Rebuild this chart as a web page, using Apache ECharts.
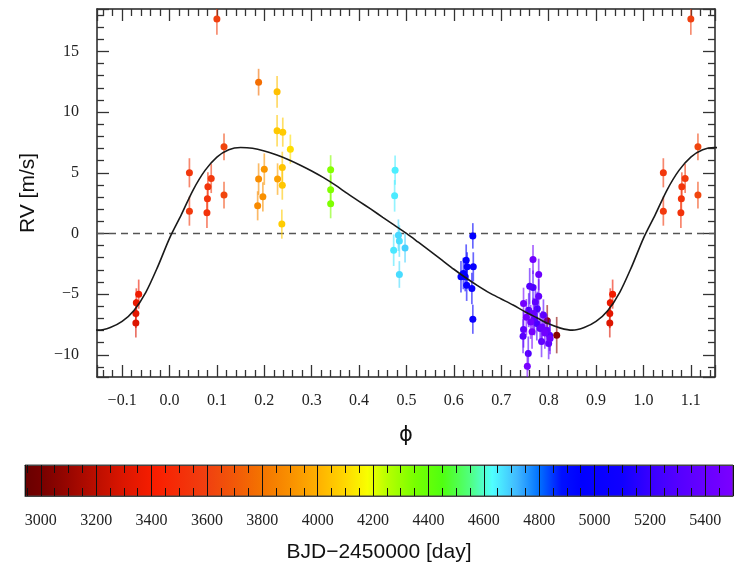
<!DOCTYPE html>
<html><head><meta charset="utf-8">
<script src="https://cdn.jsdelivr.net/npm/echarts@6/dist/echarts.min.js"></script>
<style>html,body{margin:0;padding:0;background:#fff}#c{width:736px;height:570px}</style>
</head><body><div id="c"></div>
<script>
// ---- data ----
// orbital phase (0..1), radial velocity [m/s], 1-sigma error, epoch BJD-2450000
const phase = [
  0.817, 0.797,
  0.929, 0.929, 0.930, 0.935,
  0.042, 0.042, 0.079, 0.080, 0.081, 0.088, 0.115, 0.115, 0.100,
  0.188, 0.186, 0.197, 0.188, 0.200, 0.228, 0.227, 0.227, 0.239, 0.238, 0.238, 0.237, 0.255,
  0.340, 0.340, 0.340,
  0.476, 0.475, 0.483, 0.485, 0.473, 0.497, 0.485,
  0.640, 0.626, 0.615, 0.624, 0.627, 0.628, 0.641, 0.638, 0.640, 0.620,
  0.767, 0.779, 0.760, 0.767, 0.779, 0.747, 0.772, 0.758, 0.768, 0.789, 0.762, 0.775, 0.786, 0.747,
  0.796, 0.765, 0.746, 0.802, 0.803, 0.800, 0.757, 0.755, 0.782, 0.770, 0.792, 0.776, 0.785, 0.753
];
const rv = [
  -8.38, -7.2,
  -7.37, -6.60, -5.72, -5.00,
  5.00, 1.84, 1.70, 2.86, 3.84, 4.53, 7.14, 3.16, 17.67,
  12.47, 2.28, 3.02, 4.48, 5.30, 4.48, 11.67, 8.46, 8.35, 5.44, 3.98, 0.77, 6.95,
  5.25, 3.60, 2.45,
  5.22, 3.10, -0.14, -0.63, -1.38, -1.19, -3.38,
  -0.20, -2.20, -3.57, -3.57, -4.26, -2.75, -2.75, -4.54, -7.07, -3.30,
  -2.15, -3.38, -4.35, -4.45, -5.17, -5.77, -5.64, -6.32, -6.60, -6.73, -7.29, -7.42, -7.70, -7.91,
  -7.97, -8.11, -8.47, -8.38, -8.66, -9.07, -9.89, -10.94, -7.83, -7.00, -8.20, -6.20, -8.90, -6.90
];
const rvErr = [
  1.5, 1.3,
  1.2, 1.2, 1.2, 1.2,
  1.2, 1.2, 1.25, 1.2, 1.2, 1.2, 1.1, 1.1, 1.3,
  1.1, 1.2, 1.2, 1.3, 1.3, 1.3, 1.3, 1.3, 1.2, 1.3, 1.2, 1.2, 1.2,
  1.2, 1.2, 1.2,
  1.2, 1.3, 1.3, 1.3, 1.3, 1.2, 1.1,
  1.05, 1.3, 1.3, 1.2, 1.3, 1.2, 1.2, 1.3, 1.2, 1.3,
  1.2, 1.3, 1.5, 1.4, 1.4, 1.3, 1.4, 1.4, 1.3, 1.3, 1.4, 1.4, 1.3, 1.5,
  1.3, 1.4, 1.4, 1.3, 1.3, 1.3, 1.4, 1.3, 1.3, 1.4, 1.3, 1.4, 1.3, 1.5
];
const bjd = [
  3060, 3080,
  3300, 3320, 3350, 3380,
  3550, 3560, 3520, 3530, 3540, 3560, 3620, 3625, 3600,
  3780, 3880, 3900, 3890, 3920, 3950, 4040, 4060, 4065, 4050, 4055, 4070, 4110,
  4330, 4335, 4340,
  4650, 4655, 4680, 4670, 4660, 4690, 4675,
  4960, 4980, 4940, 5000, 5010, 4990, 5020, 5030, 5040, 4970,
  5440, 5420, 5300, 5250, 5380, 5460, 5350, 5280, 5400, 5330, 5450, 5260, 5410, 5360,
  5390, 5470, 5310, 5270, 5430, 5340, 5290, 5480, 5370, 5320, 5440, 5230, 5350, 5460
];
// best-fit Keplerian curve
const modelPhase = [
  -0.175, -0.15, -0.125, -0.10, -0.075, -0.05, -0.025, 0.0, 0.025, 0.05, 0.075, 0.10, 0.125,
  0.15, 0.175, 0.20, 0.225, 0.25, 0.275, 0.30, 0.325, 0.35, 0.375, 0.40, 0.425, 0.45, 0.475,
  0.50, 0.525, 0.55, 0.575, 0.60, 0.625, 0.65, 0.675, 0.70, 0.725, 0.75, 0.775, 0.80, 0.825,
  0.85, 0.875, 0.90, 0.925, 0.95, 0.975, 1.0, 1.025, 1.05, 1.075, 1.10, 1.125, 1.15, 1.175
];
const modelRV = [
  -7.80, -7.97, -7.75, -7.25, -6.35, -4.85, -2.75, -0.40, 1.55, 3.60, 5.20, 6.30, 6.90,
  7.08, 7.02, 6.80, 6.48, 6.10, 5.65, 5.15, 4.60, 3.98, 3.30, 2.65, 2.00, 1.33, 0.67,
  0.00, -0.72, -1.45, -2.20, -2.95, -3.65, -4.30, -4.90, -5.40, -5.90, -6.45, -6.95, -7.45, -7.80,
  -7.97, -7.75, -7.25, -6.35, -4.85, -2.75, -0.40, 1.55, 3.60, 5.20, 6.30, 6.90, 7.08, 7.02
];
// colour scale
const cmapDays = [2943, 3000, 3100, 3200, 3300, 3420, 3500, 3600, 3700, 3800, 3900, 4000, 4100, 4180,
  4250, 4350, 4450, 4550, 4630, 4720, 4800, 4880, 4950, 5100, 5200, 5300, 5400, 5500];
const cmapColors = ['#680000', '#760000', '#980600', '#bb0e00', '#dc1600', '#fa1e00', '#f42e08', '#f04010',
  '#f25808', '#f47400', '#f99000', '#ffb000', '#ffd800', '#f8ff00', '#b8ff00', '#78ff00', '#50ff10',
  '#50ff80', '#50ffff', '#40b8ff', '#0070ff', '#0010ff', '#0000ff', '#1000ff', '#3800ff', '#5400ff',
  '#6800ff', '#7c00ff'];

const X_MIN = -0.153, X_MAX = 1.151;
const Y_MIN = -11.83, Y_MAX = 18.5;
const CB_MIN = 2943, CB_MAX = 5500;

function hex2rgb(h) { return [parseInt(h.substr(1,2),16), parseInt(h.substr(3,2),16), parseInt(h.substr(5,2),16)]; }
function cmap(d) {
  if (d <= cmapDays[0]) return cmapColors[0];
  for (let i = 1; i < cmapDays.length; i++) {
    if (d <= cmapDays[i]) {
      const t = (d - cmapDays[i-1]) / (cmapDays[i] - cmapDays[i-1]);
      const a = hex2rgb(cmapColors[i-1]), b = hex2rgb(cmapColors[i]);
      return 'rgb(' + a.map((v, k) => Math.round(v + (b[k] - v) * t)).join(',') + ')';
    }
  }
  return cmapColors[cmapColors.length - 1];
}

// fold: repeat the points that fall inside the extended phase window
const pts = [];
for (let i = 0; i < phase.length; i++) {
  for (const s of [-1, 0, 1]) {
    const p = phase[i] + s;
    if (p >= X_MIN && p <= X_MAX) pts.push([p, rv[i], rvErr[i], bjd[i]]);
  }
}
pts.sort((a, b) => a[3] - b[3]);

const gradStops = cmapDays.map((d, i) => ({ offset: Math.min(1, Math.max(0, (d - CB_MIN) / (CB_MAX - CB_MIN))), color: cmapColors[i] }));

const serif = 'Liberation Serif';
const sans = 'Liberation Sans';
const isMult = (v, m) => Math.abs(v / m - Math.round(v / m)) < 1e-6;
const fmtX = v => isMult(v, 0.1) ? v.toFixed(1).replace('-', '\u2212') : '';
const fmtY = v => isMult(v, 5) ? String(Math.round(v)).replace('-', '\u2212') : '';
const fmtC = v => isMult(v, 200) ? String(Math.round(v)) : '';

const tickStyle = { color: '#333', width: 1.3 };
function frameAxis(extra) {
  return Object.assign({
    axisLine: { show: true, onZero: false, lineStyle: { color: '#222', width: 1.5 } },
    axisTick: { show: true, inside: true, length: 12, lineStyle: tickStyle },
    minorTick: { show: true, splitNumber: 5, length: 7, lineStyle: tickStyle },
    splitLine: { show: false },
    axisLabel: { show: false }
  }, extra);
}

const chart = echarts.init(document.getElementById('c'), null, { renderer: 'canvas' });
chart.setOption({
  animation: false,
  backgroundColor: '#fff',
  grid: [
    { left: 97, right: 21, top: 9, bottom: 193, containLabel: false },
    { left: 25, right: 1, top: 465, height: 31, show: true, borderColor: '#444', borderWidth: 1,
      backgroundColor: new echarts.graphic.LinearGradient(0, 0, 1, 0, gradStops) }
  ],
  xAxis: [
    frameAxis({ type: 'value', gridIndex: 0, position: 'bottom', min: X_MIN, max: X_MAX, minInterval: 0.1, maxInterval: 0.1,
      axisLabel: { show: true, formatter: fmtX, fontFamily: serif, fontSize: 16, color: '#222', margin: 16 },
      name: '\u03d5', nameLocation: 'middle', nameGap: 48, nameTextStyle: { fontFamily: 'DejaVu Sans', fontSize: 21, color: '#111' } }),
    frameAxis({ type: 'value', gridIndex: 0, position: 'top', min: X_MIN, max: X_MAX, minInterval: 0.1, maxInterval: 0.1 }),
    { type: 'value', gridIndex: 1, position: 'bottom', min: CB_MIN, max: CB_MAX, minInterval: 200, maxInterval: 200,
      axisLine: { show: true, lineStyle: { color: '#444', width: 1 } },
      axisTick: { show: true, inside: true, length: 8, lineStyle: { color: '#111', width: 1 } },
      minorTick: { show: true, splitNumber: 4, length: 8, lineStyle: { color: '#111', width: 1 } },
      splitLine: { show: true, lineStyle: { color: '#111', width: 1 } },
      axisLabel: { formatter: fmtC, fontFamily: serif, fontSize: 16, color: '#222', margin: 17 },
      name: 'BJD\u22122450000 [day]', nameLocation: 'middle', nameGap: 46,
      nameTextStyle: { fontFamily: sans, fontSize: 21, color: '#111' } },
    { type: 'value', gridIndex: 1, position: 'top', min: CB_MIN, max: CB_MAX, minInterval: 200, maxInterval: 200,
      axisLine: { show: true, lineStyle: { color: '#444', width: 1 } },
      axisTick: { show: true, inside: true, length: 8, lineStyle: { color: '#111', width: 1 } },
      minorTick: { show: true, splitNumber: 4, length: 8, lineStyle: { color: '#111', width: 1 } },
      splitLine: { show: false }, axisLabel: { show: false } }
  ],
  yAxis: [
    frameAxis({ type: 'value', gridIndex: 0, position: 'left', min: Y_MIN, max: Y_MAX, minInterval: 5, maxInterval: 5,
      axisLabel: { show: true, formatter: fmtY, fontFamily: serif, fontSize: 16, color: '#222', margin: 18 },
      name: 'RV [m/s]', nameLocation: 'middle', nameGap: 58, nameRotate: 90,
      nameTextStyle: { fontFamily: sans, fontSize: 21, color: '#111' } }),
    frameAxis({ type: 'value', gridIndex: 0, position: 'right', min: Y_MIN, max: Y_MAX, minInterval: 5, maxInterval: 5 }),
    { type: 'value', gridIndex: 1, min: 0, max: 1, show: false }
  ],
  series: [
    {
      type: 'line', xAxisIndex: 0, yAxisIndex: 0, z: 5, clip: true,
      data: modelPhase.map((p, i) => [p, modelRV[i]]),
      smooth: 0.3, showSymbol: false, symbol: 'none',
      lineStyle: { color: '#1a1a1a', width: 1.6 },
      markLine: { silent: true, symbol: 'none', label: { show: false }, z: 1,
        lineStyle: { color: '#555', width: 1.4, type: [7, 5] }, data: [{ yAxis: 0 }] }
    },
    {
      type: 'custom', xAxisIndex: 0, yAxisIndex: 0, z: 3, clip: true,
      data: pts,
      renderItem: function (params, api) {
        const x = api.value(0), y = api.value(1), e = api.value(2), d = api.value(3);
        const p = api.coord([x, y]);
        const lo = api.coord([x, y - e]);
        const hi = api.coord([x, y + e]);
        const c = cmap(d);
        return { type: 'group', children: [
          { type: 'line', shape: { x1: p[0], y1: lo[1], x2: p[0], y2: hi[1] }, style: { stroke: c, lineWidth: 1.7, opacity: 0.6 } },
          { type: 'circle', shape: { cx: p[0], cy: p[1], r: 3.5 }, style: { fill: c } }
        ] };
      }
    },
    { type: 'scatter', xAxisIndex: 2, yAxisIndex: 2, data: [], silent: true }
  ]
});
</script></body></html>
